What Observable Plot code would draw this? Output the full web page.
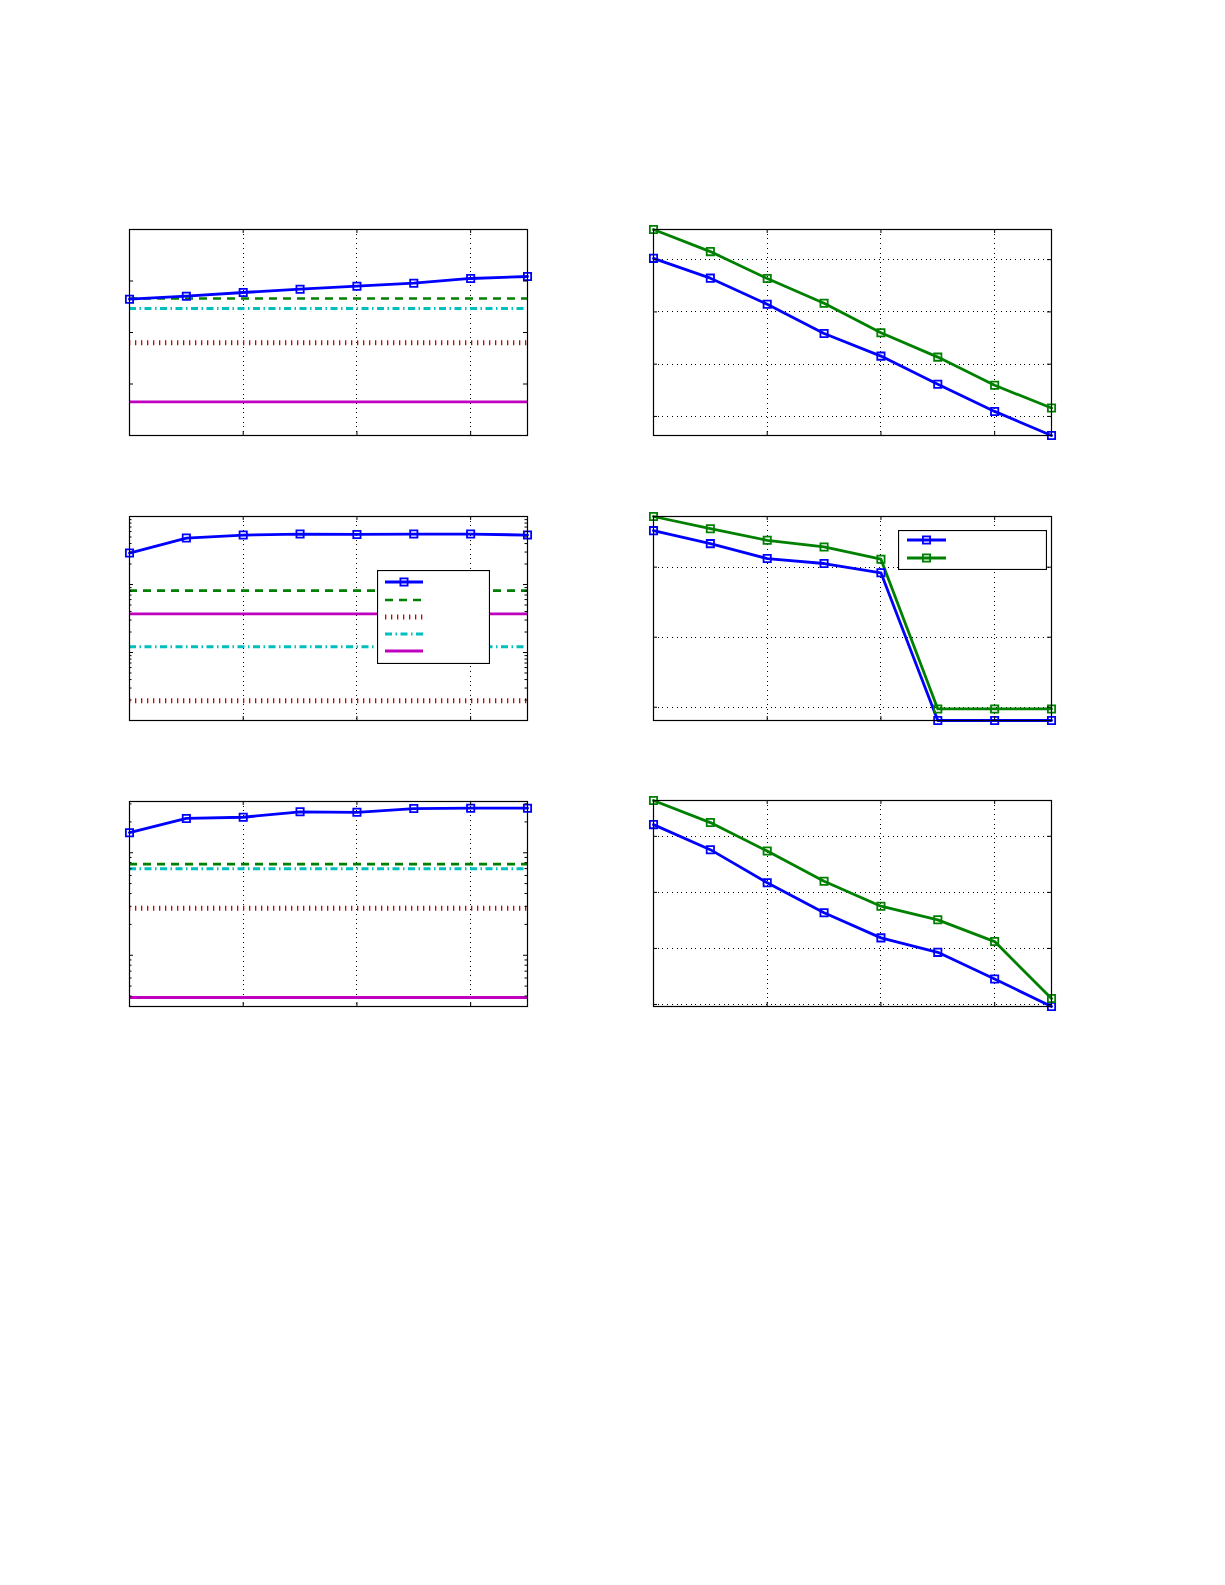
<!DOCTYPE html>
<html><head><meta charset="utf-8">
<script src="https://cdn.jsdelivr.net/npm/d3@7"></script>
<script src="https://cdn.jsdelivr.net/npm/@observablehq/plot@0.6"></script>
<style>
html,body{margin:0;padding:0;background:#fff;}
#page{position:relative;width:1225px;height:1585px;overflow:hidden;background:#fff;font-family:"DejaVu Sans",sans-serif;}
.panel{position:absolute;}
.panel svg{overflow:visible;display:block;background:transparent;}
</style></head><body><div id="page"></div>
<script>
// ---------- data ----------
const xIdx = [1, 2, 3, 4, 5, 6, 7, 8];
const xGridTicks = [3, 5, 7];

// top-left (linear)
const aMain = [2.647, 2.705, 2.777, 2.841, 2.899, 2.957, 3.049, 3.087];
const aDashed = 2.66, aDashDot = 2.466, aDotted = 1.80, aSolid = 0.653;
const aYDomain = [0, 4];
const aYTicks = [1, 2, 3];

// middle-left (log)
const cMain = [290, 482, 533, 552, 545, 552, 552, 533];
const cDashed = 81.4, cSolid = 37.1, cDashDot = 12.2, cDotted = 1.96;
const cYDomain = [1, 1000];

// bottom-left (log)
const eMain = [157, 216, 222, 251, 248, 270, 272, 272];
const eDashed = 77.4, eDashDot = 69.8, eDotted = 28.7, eSolid = 3.87;
const eYDomain = [Math.pow(10, 0.5), Math.pow(10, 2.5)];

// top-right
const bBlue  = [4.025, 3.646, 3.146, 2.588, 2.154, 1.615, 1.096, 0.635];
const bGreen = [4.577, 4.154, 3.640, 3.165, 2.602, 2.135, 1.596, 1.160];
const bYTicks = [1, 2, 3, 4];

// middle-right
const dBlue  = [3.521, 3.336, 3.123, 3.052, 2.919, 0.811, 0.811, 0.811];
const dGreen = [3.723, 3.549, 3.383, 3.288, 3.113, 0.976, 0.976, 0.976];
const dYTicks = [1, 2, 3];

// bottom-right
const fBlue  = [4.209, 3.762, 3.172, 2.635, 2.188, 1.930, 1.454, 0.964];
const fGreen = [4.639, 4.245, 3.737, 3.200, 2.753, 2.510, 2.122, 1.107];
const fYTicks = [1, 2, 3, 4];

// ---------- styles ----------
const BLUE = "#0000ff", GREEN = "#008000", RED = "#cc0000", CYAN = "#00bfbf", MAGENTA = "#bf00bf";
const styles = {
  dashed:  {stroke: GREEN,   strokeWidth: 2.6, strokeDasharray: "8,6"},
  dotted:  {stroke: RED,     strokeWidth: 5,   strokeDasharray: "1.3,4.7"},
  dashdot: {stroke: CYAN,    strokeWidth: 3,   strokeDasharray: "7,3.5,1.5,3.5"},
  solid:   {stroke: MAGENTA, strokeWidth: 2.8}
};
const GRID = {stroke: "black", strokeWidth: 1, strokeDasharray: "1,3.7", shapeRendering: "crispEdges"};

function logTicks(domain) {
  const major = [], minor = [];
  const k0 = Math.floor(Math.log10(domain[0])), k1 = Math.ceil(Math.log10(domain[1]));
  for (let k = k0; k <= k1; k++) {
    for (let m = 1; m <= 9; m++) {
      const v = m * Math.pow(10, k);
      if (v < domain[0] * 0.999 || v > domain[1] * 1.001) continue;
      (m === 1 ? major : minor).push(v);
    }
  }
  return {major, minor};
}

const page = document.getElementById("page");
const M = 12;

function panel({left, top, w, h, yType, yDomain, yMajor, yMinor = [], hGrid = false, series = [], refs = []}) {
  const seriesData = series.map(s => xIdx.map((x, i) => ({x, y: s.values[i]})));
  const marks = [
    Plot.ruleX(xGridTicks, {x: d => d, ...GRID})
  ];
  if (hGrid) marks.push(Plot.ruleY(yMajor, {y: d => d, ...GRID}));
  refs.forEach(r => marks.push(Plot.ruleY([r.value], {y: d => d, ...styles[r.style]})));
  series.forEach((s, i) => {
    marks.push(Plot.line(seriesData[i], {x: "x", y: "y", stroke: s.color, strokeWidth: s.width || 2.8}));
  });
  series.forEach((s, i) => {
    marks.push(Plot.dot(seriesData[i], {x: "x", y: "y", symbol: "square", r: 4.1, stroke: s.color, strokeWidth: 1.8, fill: "none"}));
  });
  // inward tick marks
  const bigT = 4, smallT = 2.5;
  marks.push(Plot.tickX(xGridTicks, {x: d => d, stroke: "black", insetTop: h - bigT}));
  marks.push(Plot.tickX(xGridTicks, {x: d => d, stroke: "black", insetBottom: h - bigT}));
  marks.push(Plot.tickY(yMajor, {y: d => d, stroke: "black", insetRight: w - bigT}));
  marks.push(Plot.tickY(yMajor, {y: d => d, stroke: "black", insetLeft: w - bigT}));
  if (yMinor.length) {
    marks.push(Plot.tickY(yMinor, {y: d => d, stroke: "black", insetRight: w - smallT}));
    marks.push(Plot.tickY(yMinor, {y: d => d, stroke: "black", insetLeft: w - smallT}));
  }
  marks.push(Plot.frame({stroke: "black", strokeWidth: 1.2}));

  const svg = Plot.plot({
    width: w + 2 * M, height: h + 2 * M, margin: M,
    style: {background: "transparent", overflow: "visible"},
    x: {domain: [1, 8], axis: null},
    y: {type: yType, domain: yDomain, axis: null},
    marks
  });
  const div = document.createElement("div");
  div.className = "panel";
  div.style.left = (left - M) + "px";
  div.style.top = (top - M) + "px";
  div.appendChild(svg);
  page.appendChild(div);
}

function legend({left, top, w, h, items, x0, x1, rows}) {
  const svg = d3.create("svg").attr("width", w + 1).attr("height", h + 1)
    .style("position", "absolute").style("left", left + "px").style("top", top + "px");
  svg.append("rect").attr("x", 0.5).attr("y", 0.5).attr("width", w).attr("height", h)
    .attr("fill", "white").attr("stroke", "black").attr("stroke-width", 1.2);
  items.forEach((it, i) => {
    const y = rows[i];
    const st = it.style ? styles[it.style] : {stroke: it.color, strokeWidth: it.width || 2.8};
    const ln = svg.append("line").attr("x1", x0).attr("x2", x1).attr("y1", y).attr("y2", y)
      .attr("stroke", st.stroke).attr("stroke-width", st.strokeWidth);
    if (st.strokeDasharray) ln.attr("stroke-dasharray", st.strokeDasharray);
    if (it.marker) {
      const s = 7.2, cx = (x0 + x1) / 2;
      svg.append("rect").attr("x", cx - s / 2).attr("y", y - s / 2).attr("width", s).attr("height", s)
        .attr("fill", "none").attr("stroke", st.stroke).attr("stroke-width", 1.8);
    }
  });
  page.appendChild(svg.node());
}

// ---------- panels ----------
panel({left: 129, top: 229, w: 398, h: 206, yType: "linear", yDomain: aYDomain, yMajor: aYTicks,
  series: [{values: aMain, color: BLUE}],
  refs: [{value: aSolid, style: "solid"}, {value: aDotted, style: "dotted"},
         {value: aDashDot, style: "dashdot"}, {value: aDashed, style: "dashed"}]});

const cT = logTicks(cYDomain);
panel({left: 129, top: 516, w: 398, h: 204, yType: "log", yDomain: cYDomain, yMajor: cT.major, yMinor: cT.minor,
  series: [{values: cMain, color: BLUE}],
  refs: [{value: cDotted, style: "dotted"}, {value: cDashDot, style: "dashdot"},
         {value: cSolid, style: "solid"}, {value: cDashed, style: "dashed"}]});

const eT = logTicks(eYDomain);
panel({left: 129, top: 801, w: 398, h: 205, yType: "log", yDomain: eYDomain, yMajor: eT.major, yMinor: eT.minor,
  series: [{values: eMain, color: BLUE}],
  refs: [{value: eSolid, style: "solid"}, {value: eDotted, style: "dotted"},
         {value: eDashDot, style: "dashdot"}, {value: eDashed, style: "dashed"}]});

panel({left: 653, top: 229, w: 398, h: 206, yType: "linear", yDomain: d3.extent([...bBlue, ...bGreen]),
  yMajor: bYTicks, hGrid: true,
  series: [{values: bBlue, color: BLUE}, {values: bGreen, color: GREEN}]});

panel({left: 653, top: 516, w: 398, h: 204, yType: "linear", yDomain: d3.extent([...dBlue, ...dGreen]),
  yMajor: dYTicks, hGrid: true,
  series: [{values: dBlue, color: BLUE}, {values: dGreen, color: GREEN}]});

panel({left: 653, top: 800, w: 398, h: 206, yType: "linear", yDomain: d3.extent([...fBlue, ...fGreen]),
  yMajor: fYTicks, hGrid: true,
  series: [{values: fBlue, color: BLUE}, {values: fGreen, color: GREEN}]});

// ---------- legends (no text in the original) ----------
legend({left: 377, top: 570, w: 112, h: 93, x0: 8, x1: 46, rows: [12, 30, 47, 64, 81],
  items: [{color: BLUE, marker: true}, {style: "dashed"}, {style: "dotted"}, {style: "dashdot"}, {style: "solid"}]});

legend({left: 898, top: 530, w: 148, h: 39, x0: 9, x1: 48, rows: [10, 28],
  items: [{color: BLUE, marker: true, width: 3.2}, {color: GREEN, marker: true, width: 2.8}]});
</script>
</body></html>
